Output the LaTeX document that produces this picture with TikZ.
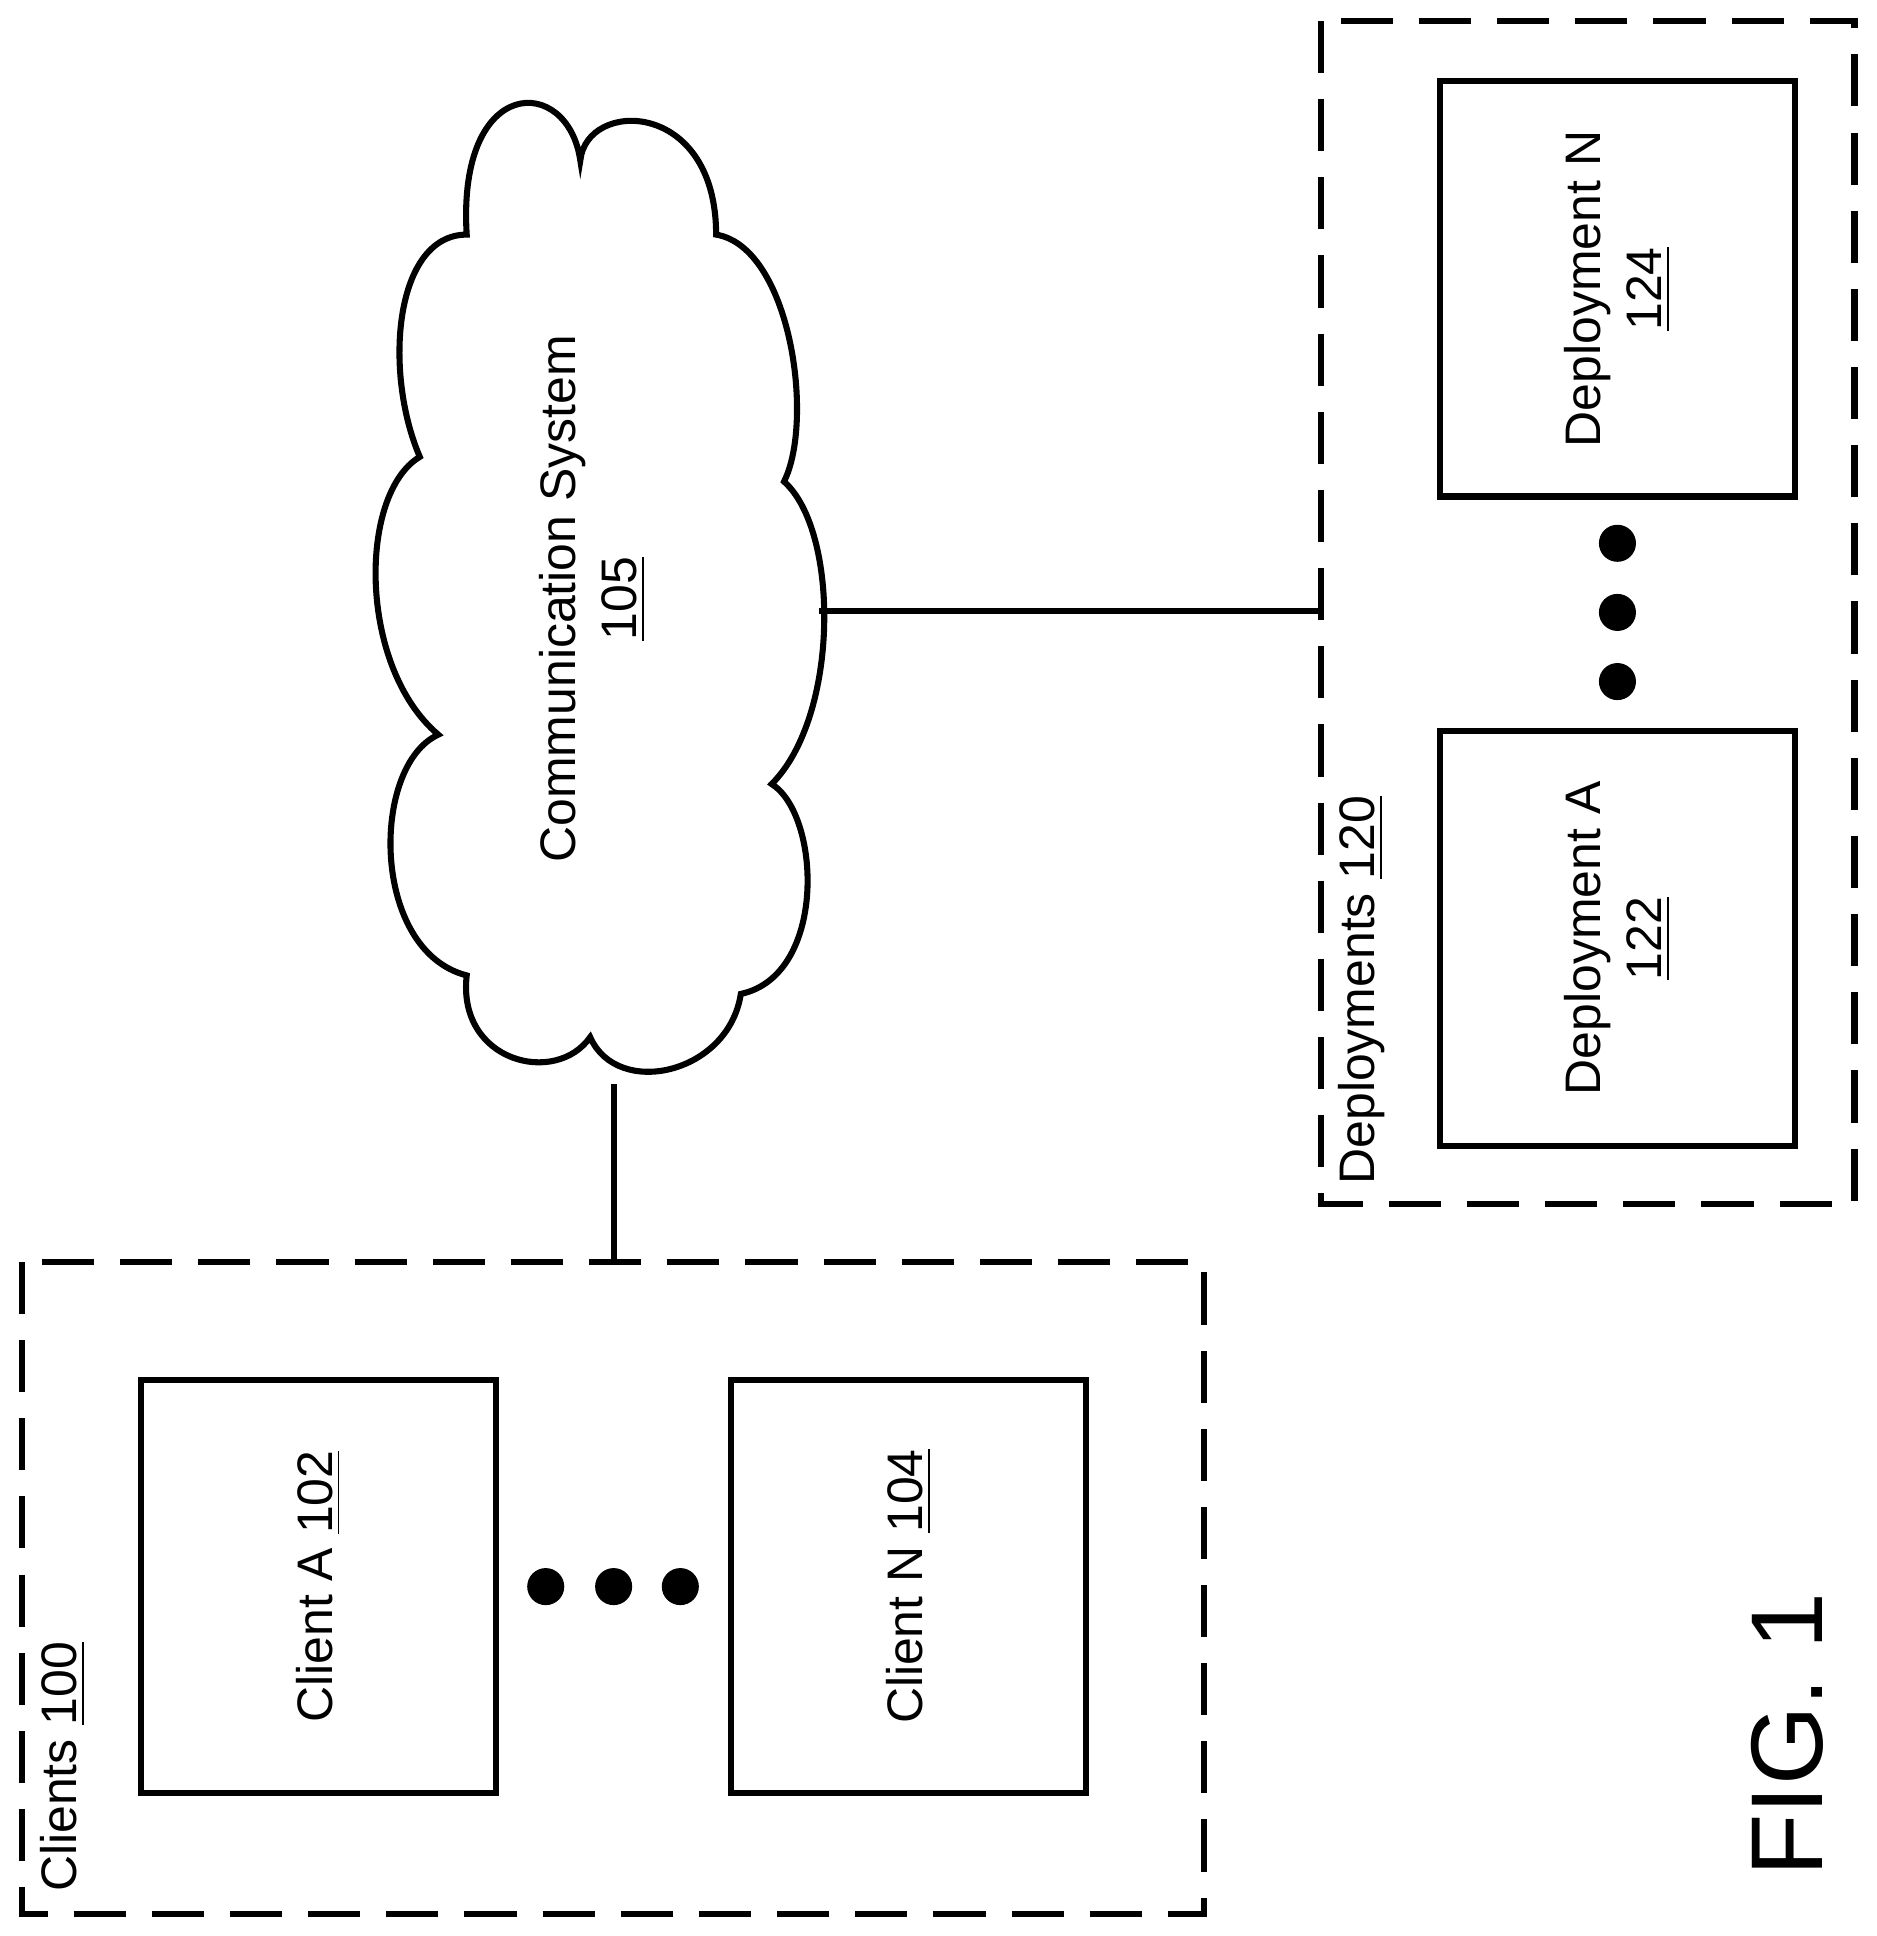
\documentclass[tikz,border=0pt]{standalone}
\usepackage{fontspec}
\setmainfont{Liberation Sans}
\begin{document}
\begin{tikzpicture}[x=0.01cm,y=-0.01cm,
  box/.style={draw,line width=1.4pt},
  grp/.style={draw,line width=1.4pt,dash pattern=on 12pt off 6pt},
  lbl/.style={rotate=90,font=\fontsize{11.5}{14}\selectfont,align=center},
  dot/.style={fill=black,circle,inner sep=0pt,minimum size=0.3cm},
  conn/.style={line width=1.4pt}]
\useasboundingbox (0,0) rectangle (1520,1568);
% Clients
\draw[grp] (18,1022) rectangle (975,1550);
\coordinate (cltop) at (497,1022);
\node[lbl,anchor=south west,inner sep=0pt] (cl) at (70,1533) {Clients \underline{100}};
\node[box,minimum width=2.87cm,minimum height=3.34cm] (ca) at (258,1285) {};
\node[lbl] at (ca.center) {Client A \underline{102}};
\node[box,minimum width=2.87cm,minimum height=3.34cm] (cn) at (736,1285) {};
\node[lbl] at (cn.center) {Client N \underline{104}};
\node[dot] (d1) at (442,1285) {};
\node[dot] (d2) at (497,1285) {};
\node[dot] (d3) at (551,1285) {};
% Cloud
\draw[line width=1.4pt] (470,130) .. controls (475,80) and (580,80) .. (580,190)
 .. controls (640,200) and (660,340) .. (635,390)
 .. controls (680,430) and (680,580) .. (625,635)
 .. controls (665,660) and (670,790) .. (600,805)
 .. controls (590,870) and (500,890) .. (478,840)
 .. controls (450,880) and (370,860) .. (378,790)
 .. controls (300,770) and (300,620) .. (355,595)
 .. controls (290,540) and (290,400) .. (340,370)
 .. controls (310,300) and (320,190) .. (378,190)
 .. controls (370,60) and (460,60) .. (470,130) -- cycle;
\coordinate (cbot) at (497,878);
\coordinate (cright) at (663,495);
\node[lbl] (cs) at (480,485) {Communication System\\\underline{105}};
% Deployments
\draw[grp] (1070,17) rectangle (1502,975);
\coordinate (dleft) at (1070,495);
\node[lbl,anchor=south west,inner sep=0pt] (dl) at (1122,960) {Deployments \underline{120}};
\node[box,minimum width=2.87cm,minimum height=3.36cm] (dn) at (1310,234) {};
\node[lbl] at (dn.center) {Deployment N\\\underline{124}};
\node[box,minimum width=2.87cm,minimum height=3.36cm] (da) at (1310,760) {};
\node[lbl] at (da.center) {Deployment A\\\underline{122}};
\node[dot] (e1) at (1310,440) {};
\node[dot] (e2) at (1310,496) {};
\node[dot] (e3) at (1310,552) {};
\draw[conn] (cltop) -- (cbot);
\draw[conn] (cright) -- (dleft);
\node[rotate=90,font=\fontsize{23.5}{28}\selectfont] (fig) at (1448,1405) {FIG. 1};
\end{tikzpicture}
\end{document}
